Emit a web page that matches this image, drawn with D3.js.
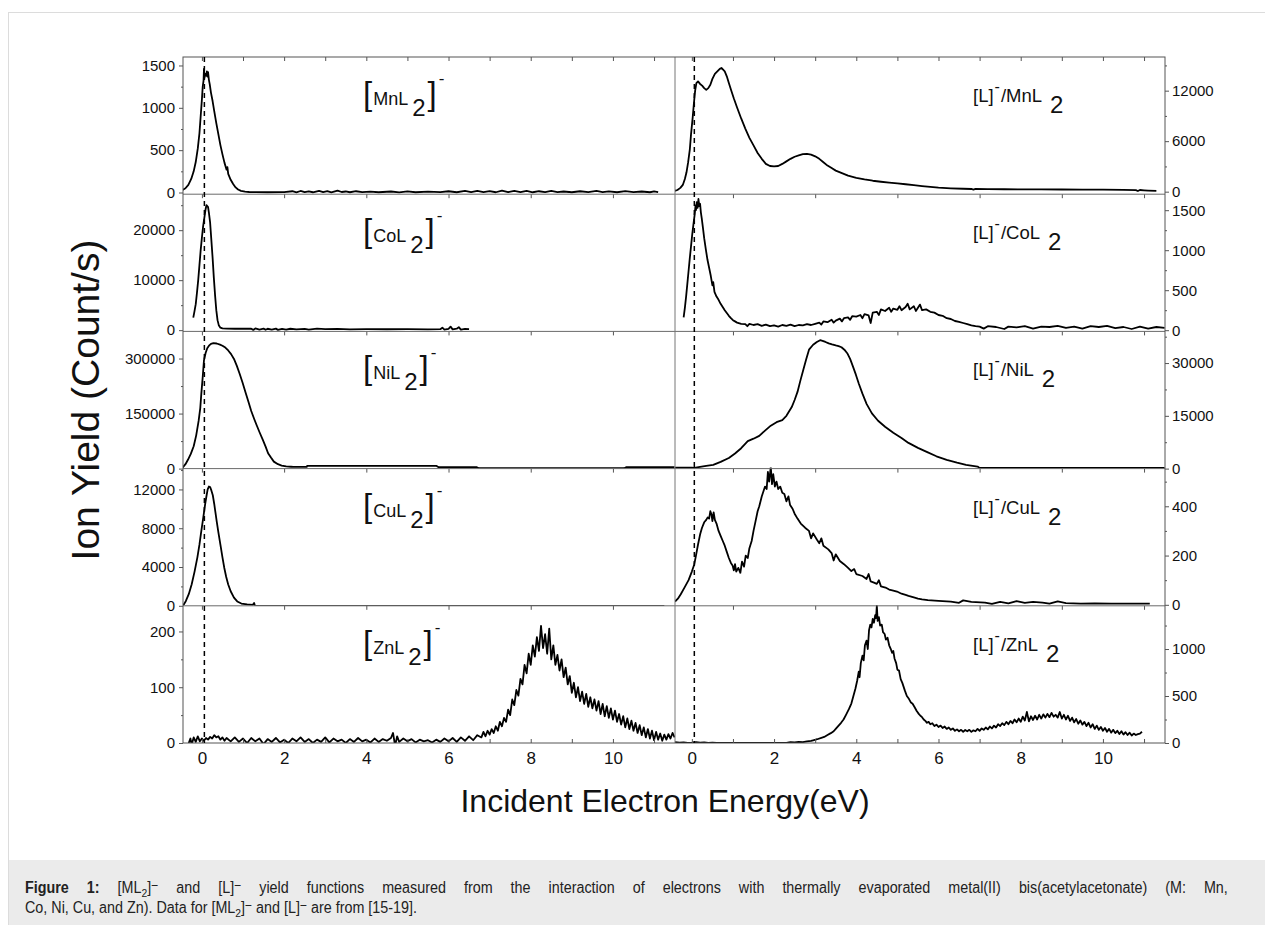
<!DOCTYPE html>
<html>
<head>
<meta charset="utf-8">
<script src="https://cdn.jsdelivr.net/npm/d3@7"></script>
<style>
body { margin: 0; background: #fff; }
svg { display: block; }
text { font-family: "Liberation Sans", Arial, Helvetica, sans-serif; }
</style>
</head>
<body>
<svg id="chart" width="1265" height="925"></svg>
<script>
// ---- data: [energy (eV), counts/s] ----
var mnLeft = [[-0.47,30],[-0.4,50],[-0.33,90],[-0.26,160],[-0.2,250],[-0.15,360],[-0.1,520],[-0.06,700],[-0.03,900],[0.0,1100],[0.02,1250],[0.04,1320],[0.05,1460],[0.06,1350],[0.08,1400],[0.1,1380],[0.12,1430],[0.13,1370],[0.15,1420],[0.17,1330],[0.19,1280],[0.22,1180],[0.26,1080],[0.3,960],[0.35,820],[0.4,690],[0.45,560],[0.5,450],[0.55,350],[0.6,270],[0.62,300],[0.64,220],[0.7,150],[0.76,100],[0.82,60],[0.88,35],[0.95,20],[1.05,10],[1.15,6],[1.3,4],[1.6,3],[2.0,5],[2.2,15],[2.3,2],[2.4,18],[2.5,4],[2.6,14],[2.7,3],[2.85,20],[2.95,5],[3.05,16],[3.15,2],[3.3,22],[3.4,6],[3.5,12],[3.6,3],[3.75,15],[3.9,4],[4.1,10],[4.3,3],[4.6,12],[4.8,2],[5.0,14],[5.2,3],[5.5,10],[5.8,4],[6.0,15],[6.2,3],[6.4,18],[6.55,4],[6.7,20],[6.85,5],[7.0,16],[7.15,3],[7.3,22],[7.45,5],[7.6,18],[7.75,4],[7.9,20],[8.05,3],[8.2,15],[8.35,5],[8.5,18],[8.65,4],[8.8,12],[9.0,3],[9.2,15],[9.4,4],[9.6,18],[9.75,5],[9.9,14],[10.1,3],[10.3,16],[10.5,4],[10.7,12],[10.9,3],[11.0,14],[11.1,5]];

var mnRight = [[-0.43,80],[-0.35,200],[-0.28,450],[-0.22,800],[-0.17,1500],[-0.13,2300],[-0.09,3500],[-0.05,5000],[-0.02,6800],[0.02,8800],[0.05,10500],[0.08,12000],[0.11,12900],[0.15,13100],[0.2,12800],[0.25,12600],[0.3,12300],[0.35,12100],[0.4,12300],[0.45,12700],[0.5,13400],[0.56,14000],[0.62,14300],[0.68,14600],[0.72,14700],[0.76,14500],[0.8,14300],[0.85,13700],[0.9,12900],[0.96,12000],[1.02,11100],[1.1,10000],[1.2,8700],[1.3,7500],[1.4,6400],[1.5,5500],[1.6,4600],[1.7,3900],[1.8,3300],[1.9,3050],[2.0,3000],[2.1,3050],[2.2,3300],[2.3,3600],[2.4,3900],[2.5,4150],[2.6,4300],[2.7,4450],[2.8,4500],[2.9,4400],[3.0,4200],[3.1,3900],[3.2,3500],[3.3,3100],[3.4,2800],[3.5,2500],[3.65,2200],[3.8,1900],[4.0,1650],[4.2,1450],[4.4,1300],[4.6,1180],[4.8,1080],[5.0,980],[5.2,880],[5.4,780],[5.6,660],[5.8,560],[6.0,470],[6.3,400],[6.6,350],[6.8,320],[6.85,250],[6.9,330],[7.2,300],[7.6,290],[8.0,280],[8.5,270],[9.0,260],[9.5,250],[10.0,240],[10.5,210],[10.8,180],[10.85,80],[10.9,200],[11.0,160],[11.1,130],[11.3,90]];

var coLeft = [[-0.21,2500],[-0.18,3800],[-0.15,5200],[-0.12,7500],[-0.09,10000],[-0.06,13000],[-0.03,16000],[0.0,18500],[0.03,20800],[0.06,22500],[0.09,24200],[0.11,25000],[0.13,24800],[0.15,24600],[0.17,23500],[0.2,21500],[0.23,18000],[0.26,14500],[0.29,10500],[0.32,7000],[0.35,4000],[0.38,2000],[0.41,1000],[0.45,500],[0.5,350],[0.6,300],[0.8,280],[1.0,280],[1.2,290],[1.25,50],[1.3,350],[1.4,100],[1.5,300],[1.55,80],[1.6,280],[1.7,120],[1.8,300],[1.85,60],[1.95,250],[2.05,100],[2.15,280],[2.3,150],[2.5,250],[2.6,100],[2.8,300],[3.0,200],[3.3,250],[3.6,150],[4.0,200],[4.5,180],[5.0,200],[5.5,150],[5.8,200],[5.85,500],[5.9,100],[6.0,250],[6.05,700],[6.1,150],[6.2,300],[6.25,600],[6.3,100],[6.4,250],[6.5,200]];

var coRight = [[-0.2,160],[-0.17,280],[-0.14,420],[-0.11,580],[-0.08,740],[-0.05,900],[-0.02,1050],[0.01,1200],[0.04,1330],[0.07,1450],[0.09,1560],[0.1,1500],[0.12,1600],[0.14,1530],[0.16,1640],[0.18,1550],[0.2,1580],[0.22,1470],[0.24,1400],[0.27,1280],[0.3,1150],[0.34,1010],[0.38,880],[0.42,780],[0.46,680],[0.5,560],[0.52,600],[0.55,480],[0.6,420],[0.65,380],[0.7,330],[0.75,290],[0.8,250],[0.85,215],[0.9,180],[0.95,150],[1.0,125],[1.05,110],[1.1,95],[1.2,80],[1.3,75],[1.35,50],[1.4,80],[1.5,65],[1.6,75],[1.7,55],[1.8,70],[1.9,50],[2.0,60],[2.1,45],[2.2,65],[2.3,55],[2.4,70],[2.5,50],[2.6,65],[2.7,60],[2.8,75],[2.9,65],[3.0,80],[3.1,95],[3.15,70],[3.2,110],[3.3,100],[3.4,130],[3.45,95],[3.5,120],[3.6,145],[3.65,110],[3.7,150],[3.8,160],[3.85,130],[3.9,175],[4.0,170],[4.1,190],[4.15,150],[4.2,200],[4.3,185],[4.35,90],[4.4,220],[4.5,230],[4.55,190],[4.6,260],[4.7,240],[4.8,280],[4.85,230],[4.9,270],[5.0,255],[5.05,300],[5.1,250],[5.2,290],[5.25,330],[5.3,260],[5.4,300],[5.45,240],[5.5,280],[5.55,320],[5.6,250],[5.7,260],[5.8,230],[5.9,220],[6.0,190],[6.1,180],[6.2,150],[6.3,140],[6.4,115],[6.5,105],[6.6,90],[6.7,75],[6.8,60],[6.9,50],[7.0,45],[7.1,20],[7.2,50],[7.4,40],[7.6,15],[7.7,45],[7.9,35],[8.1,50],[8.3,20],[8.5,45],[8.7,40],[8.9,55],[9.1,30],[9.3,45],[9.5,20],[9.7,50],[9.9,40],[10.1,55],[10.3,25],[10.5,40],[10.7,15],[10.9,45],[11.1,20],[11.3,40],[11.5,30]];

var niLeft = [[-0.47,2800],[-0.4,12000],[-0.34,24000],[-0.27,40000],[-0.2,61000],[-0.14,90000],[-0.08,130000],[-0.04,165000],[-0.015,203000],[0.02,250000],[0.05,295000],[0.09,315000],[0.13,328000],[0.18,336000],[0.22,340000],[0.28,342000],[0.36,341000],[0.44,338000],[0.5,335000],[0.57,330000],[0.64,322000],[0.71,312000],[0.78,299000],[0.85,280000],[0.92,258000],[0.99,234000],[1.06,208000],[1.13,183000],[1.2,157000],[1.27,136000],[1.34,116000],[1.41,97000],[1.48,79000],[1.55,60000],[1.61,42000],[1.68,30000],[1.75,19000],[1.85,12000],[1.94,8300],[2.05,6000],[2.17,5000],[2.22,4600],[2.55,4600],[2.56,7400],[5.71,7400],[5.76,3700],[6.69,3700],[6.74,900],[10.27,900],[10.32,3700],[11.5,3700]];

var niRight = [[-0.41,300],[0.0,300],[0.06,200],[0.2,500],[0.35,800],[0.52,1060],[0.7,1900],[0.9,3000],[1.05,4300],[1.2,5800],[1.36,7800],[1.5,8500],[1.64,9300],[1.78,10800],[1.92,12200],[2.06,13200],[2.2,13800],[2.3,15000],[2.43,17500],[2.5,19500],[2.57,21800],[2.64,25000],[2.71,28000],[2.78,31000],[2.85,33800],[2.95,35200],[3.04,36000],[3.12,36500],[3.18,36300],[3.25,36000],[3.33,35600],[3.41,35300],[3.5,35000],[3.57,34800],[3.64,34500],[3.71,33800],[3.78,32800],[3.85,31200],[3.92,29000],[3.99,26700],[4.06,24200],[4.15,21300],[4.25,18400],[4.38,15700],[4.53,13600],[4.7,11900],[4.9,10200],[5.1,8700],[5.27,7300],[5.5,5900],[5.74,4600],[5.95,3500],[6.2,2500],[6.45,1700],[6.67,1060],[6.95,580],[7.0,200],[11.5,200]];

var cuLeft = [[-0.47,0],[-0.43,200],[-0.39,500],[-0.32,1200],[-0.25,2200],[-0.18,3500],[-0.11,5000],[-0.06,6300],[-0.015,7700],[0.02,8700],[0.05,9600],[0.08,10500],[0.11,11300],[0.14,12000],[0.17,12300],[0.2,12250],[0.23,11900],[0.265,11400],[0.3,10500],[0.33,9600],[0.36,8700],[0.4,7600],[0.45,6300],[0.5,5000],[0.545,3900],[0.59,3000],[0.64,2200],[0.7,1500],[0.78,850],[0.86,450],[0.96,230],[1.1,150],[1.24,100],[1.27,300],[1.29,0],[11.25,0]];

var cuRight = [[-0.41,13],[-0.34,25],[-0.27,43],[-0.18,70],[-0.08,100],[0.0,135],[0.06,165],[0.1,200],[0.15,245],[0.2,285],[0.245,312],[0.3,335],[0.35,345],[0.385,355],[0.42,350],[0.45,380],[0.48,365],[0.5,340],[0.53,375],[0.56,345],[0.6,330],[0.65,300],[0.7,280],[0.75,260],[0.8,240],[0.85,215],[0.9,190],[0.95,170],[0.99,160],[1.02,140],[1.05,165],[1.08,135],[1.13,150],[1.18,130],[1.22,175],[1.27,155],[1.31,200],[1.36,190],[1.4,230],[1.455,259],[1.5,300],[1.55,340],[1.6,380],[1.64,400],[1.7,440],[1.75,465],[1.78,480],[1.82,470],[1.85,540],[1.88,500],[1.92,560],[1.95,490],[1.98,530],[2.02,480],[2.06,500],[2.1,470],[2.15,480],[2.2,455],[2.25,450],[2.3,420],[2.35,440],[2.39,405],[2.45,390],[2.5,370],[2.57,350],[2.65,330],[2.76,312],[2.85,300],[2.9,270],[2.95,290],[3.04,265],[3.1,250],[3.15,270],[3.2,240],[3.32,225],[3.4,210],[3.45,180],[3.5,205],[3.6,178],[3.7,165],[3.8,150],[3.88,137],[3.95,145],[4.0,125],[4.15,117],[4.25,105],[4.3,125],[4.35,95],[4.43,90],[4.5,85],[4.55,100],[4.6,75],[4.71,70],[4.8,62],[4.9,58],[4.99,54],[5.1,45],[5.2,40],[5.27,36],[5.4,30],[5.5,25],[5.6,22],[5.74,19],[6.0,16],[6.3,13],[6.5,8],[6.6,18],[6.8,12],[7.13,9],[7.3,4],[7.5,12],[7.7,6],[7.9,15],[8.1,8],[8.3,12],[8.53,9],[8.7,5],[8.9,14],[9.1,7],[9.46,5],[9.8,6],[10.2,5],[10.6,5],[11.14,5]];

var znLeft = [[-0.32,0],[-0.28,8],[-0.25,-3],[-0.2,10],[-0.15,2],[-0.1,12],[-0.05,3],[0.0,8],[0.05,4],[0.1,9],[0.15,6],[0.2,11],[0.25,8],[0.3,14],[0.35,10],[0.4,12],[0.45,6],[0.5,10],[0.55,4],[0.6,9],[0.7,3],[0.8,10],[0.9,2],[1.0,8],[1.1,0],[1.2,9],[1.3,3],[1.4,8],[1.5,-2],[1.6,7],[1.7,2],[1.8,9],[1.9,1],[2.0,6],[2.1,0],[2.2,8],[2.3,3],[2.4,10],[2.5,2],[2.6,7],[2.7,0],[2.8,6],[2.9,2],[3.0,10],[3.1,1],[3.2,8],[3.3,3],[3.4,6],[3.5,0],[3.6,7],[3.7,2],[3.8,9],[3.9,3],[4.0,6],[4.1,1],[4.2,8],[4.3,2],[4.4,7],[4.5,4],[4.6,9],[4.65,18],[4.7,-5],[4.75,12],[4.8,2],[4.9,8],[5.0,3],[5.1,7],[5.2,1],[5.3,6],[5.4,3],[5.5,5],[5.6,1],[5.7,6],[5.8,2],[5.9,8],[6.0,3],[6.1,9],[6.2,2],[6.3,10],[6.4,4],[6.5,12],[6.6,5],[6.7,14],[6.8,10],[6.85,20],[6.9,12],[6.95,22],[7.0,15],[7.05,25],[7.1,18],[7.15,30],[7.2,22],[7.25,38],[7.3,30],[7.35,45],[7.4,38],[7.45,60],[7.5,50],[7.55,78],[7.6,68],[7.65,95],[7.7,85],[7.75,115],[7.8,105],[7.85,140],[7.9,125],[7.95,160],[8.0,140],[8.05,175],[8.1,155],[8.15,190],[8.2,165],[8.25,210],[8.3,170],[8.35,195],[8.4,160],[8.45,205],[8.5,150],[8.55,175],[8.6,140],[8.65,158],[8.7,130],[8.75,150],[8.8,118],[8.85,135],[8.9,105],[8.95,120],[9.0,90],[9.05,108],[9.1,82],[9.15,100],[9.2,75],[9.25,92],[9.3,70],[9.35,88],[9.4,65],[9.45,82],[9.5,62],[9.55,78],[9.6,58],[9.65,75],[9.7,52],[9.75,70],[9.8,48],[9.85,66],[9.9,45],[9.95,62],[10.0,42],[10.05,58],[10.1,38],[10.15,52],[10.2,33],[10.25,48],[10.3,28],[10.35,44],[10.4,25],[10.45,40],[10.5,22],[10.55,36],[10.6,18],[10.65,32],[10.7,14],[10.75,28],[10.8,10],[10.85,25],[10.9,8],[10.95,22],[11.0,5],[11.05,20],[11.1,6],[11.15,17],[11.2,4],[11.25,15],[11.3,6],[11.35,16],[11.4,8],[11.45,18],[11.5,10]];

var znRight = [[-0.41,8],[-0.3,3],[-0.2,6],[-0.1,2],[0.0,5],[0.1,10],[0.2,3],[0.3,6],[0.4,1],[0.5,4],[0.6,0],[0.8,2],[1.0,0],[1.5,0],[2.0,0],[2.3,2],[2.4,10],[2.5,6],[2.6,12],[2.7,10],[2.8,18],[2.9,22],[2.95,28],[3.05,40],[3.15,55],[3.22,64],[3.3,85],[3.38,105],[3.45,125],[3.5,150],[3.57,185],[3.63,215],[3.69,250],[3.75,300],[3.82,360],[3.88,420],[3.93,500],[3.98,580],[4.02,660],[4.06,760],[4.08,700],[4.11,850],[4.15,930],[4.18,880],[4.21,1040],[4.25,1090],[4.28,1000],[4.31,1200],[4.34,1260],[4.37,1230],[4.4,1320],[4.43,1280],[4.46,1360],[4.48,1330],[4.5,1460],[4.52,1300],[4.55,1340],[4.58,1250],[4.62,1260],[4.65,1180],[4.69,1160],[4.72,1100],[4.76,1120],[4.8,1040],[4.84,1000],[4.87,960],[4.9,980],[4.93,900],[4.97,850],[5.0,780],[5.04,770],[5.08,680],[5.12,640],[5.18,560],[5.23,500],[5.28,470],[5.33,430],[5.37,417],[5.42,380],[5.47,340],[5.52,310],[5.56,290],[5.6,275],[5.64,250],[5.68,235],[5.72,215],[5.76,225],[5.8,200],[5.85,210],[5.9,180],[5.95,195],[6.0,170],[6.05,185],[6.1,160],[6.15,175],[6.2,150],[6.25,165],[6.3,140],[6.35,155],[6.4,130],[6.45,145],[6.5,125],[6.55,140],[6.6,120],[6.65,138],[6.7,125],[6.75,140],[6.8,118],[6.85,135],[6.9,125],[6.95,150],[7.0,130],[7.05,155],[7.1,140],[7.15,165],[7.2,145],[7.25,175],[7.3,155],[7.35,185],[7.4,165],[7.45,200],[7.5,180],[7.55,210],[7.6,190],[7.65,225],[7.7,200],[7.75,235],[7.8,210],[7.85,250],[7.9,220],[7.95,260],[8.0,225],[8.05,280],[8.1,240],[8.15,330],[8.2,230],[8.25,285],[8.3,245],[8.35,290],[8.4,250],[8.45,300],[8.5,260],[8.55,305],[8.6,270],[8.65,310],[8.7,275],[8.75,320],[8.8,280],[8.85,300],[8.9,270],[8.95,330],[9.0,260],[9.05,300],[9.1,250],[9.15,290],[9.2,235],[9.25,270],[9.3,220],[9.35,255],[9.4,205],[9.45,240],[9.5,195],[9.55,225],[9.6,180],[9.65,215],[9.7,165],[9.75,200],[9.8,150],[9.85,185],[9.9,140],[9.95,170],[10.0,130],[10.05,160],[10.1,120],[10.15,150],[10.2,110],[10.25,140],[10.3,105],[10.35,130],[10.4,95],[10.45,125],[10.5,90],[10.55,115],[10.6,85],[10.65,110],[10.7,80],[10.75,100],[10.8,85],[10.85,95],[10.9,100],[10.95,120]];

// metals (rows) and axis settings
var metals = ["Mn", "Co", "Ni", "Cu", "Zn"];
var leftSeries = [mnLeft, coLeft, niLeft, cuLeft, znLeft];
var rightSeries = [mnRight, coRight, niRight, cuRight, znRight];
var leftDomains = [[-20,1600],[-250,27200],[0,374000],[0,14150],[0,246]];
var rightDomains = [[-300,16000],[-15,1700],[0,39000],[-4,553],[0,1460]];
var leftTicks = [[0,500,1000,1500],[0,10000,20000],[0,150000,300000],[0,4000,8000,12000],[0,100,200]];
var rightTicks = [[0,6000,12000],[0,500,1000,1500],[0,15000,30000],[0,200,400],[0,500,1000]];
var leftMinorStep = [250, 5000, 75000, 2000, 50];
var rightMinorStep = [3000, 250, 7500, 100, 250];
var energyTicks = [0, 2, 4, 6, 8, 10];
var dashedAt = 0.06;

var svg = d3.select("#chart");

// figure frame and caption box
svg.append("rect").attr("x", 8.5).attr("y", 12.5).attr("width", 1300).attr("height", 1000)
   .attr("fill", "none").attr("stroke", "#dcdcdc");
svg.append("rect").attr("x", 9).attr("y", 860).attr("width", 1260).attr("height", 70).attr("fill", "#ebebeb");

var plotL = 183, plotM = 675, plotR = 1165, plotT = 57, plotB = 743;
var rowH = (plotB - plotT) / metals.length;

var xLeft = d3.scaleLinear().domain([-0.46, 11.51]).range([plotL, plotM]);
var xRight = d3.scaleLinear().domain([-0.41, 11.51]).range([plotM, plotR]);

var defs = svg.append("defs");

function minorValues(domain, step, majors) {
  var out = [];
  for (var v = 0; v <= domain[1]; v += step) {
    if (majors.indexOf(v) < 0) out.push(v);
  }
  return out;
}

function drawPanel(side, i) {
  var x = side == "L" ? xLeft : xRight;
  var data = side == "L" ? leftSeries[i] : rightSeries[i];
  var dom = side == "L" ? leftDomains[i] : rightDomains[i];
  var majors = side == "L" ? leftTicks[i] : rightTicks[i];
  var step = side == "L" ? leftMinorStep[i] : rightMinorStep[i];
  var y0 = plotT + i * rowH, y1 = y0 + rowH;
  var y = d3.scaleLinear().domain(dom).range([y1, y0]);
  var x0 = x.range()[0], x1 = x.range()[1];

  var clipId = "clip" + side + i;
  defs.append("clipPath").attr("id", clipId).append("rect")
      .attr("x", x0).attr("y", y0 - 1).attr("width", x1 - x0).attr("height", rowH + 1);

  var line = d3.line().x(function(d) { return x(d[0]); }).y(function(d) { return y(d[1]); });
  svg.append("path").datum(data)
     .attr("clip-path", "url(#" + clipId + ")")
     .attr("d", line)
     .attr("fill", "none").attr("stroke", "#000").attr("stroke-width", 1.8)
     .attr("stroke-linejoin", "round");

  // value axis (majors labelled, minors bare)
  var ax = side == "L" ? d3.axisLeft(y) : d3.axisRight(y);
  var gx = side == "L" ? plotL : plotR;
  var g = svg.append("g").attr("transform", "translate(" + gx + ",0)")
     .call(ax.tickValues(majors).tickSize(4).tickPadding(side == "L" ? 4 : 3).tickFormat(d3.format("d")));
  g.select(".domain").remove();
  g.selectAll("line").attr("stroke", "#555");
  g.selectAll("text").attr("font-size", 15).attr("fill", "#111")
     .attr("font-family", "'Liberation Sans', Arial, sans-serif");
  var ax2 = side == "L" ? d3.axisLeft(y) : d3.axisRight(y);
  var gm = svg.append("g").attr("transform", "translate(" + gx + ",0)")
     .call(ax2.tickValues(minorValues(dom, step, majors)).tickSize(2).tickFormat(""));
  gm.select(".domain").remove();
  gm.selectAll("line").attr("stroke", "#555");

  // energy ticks along the top edge of each panel (pointing into the panel)
  var ints = d3.range(0, 12);
  var topTicks = i == 0 ? ints : ints.filter(function(v) { return side == "L" ? v % 2 == 0 : v % 2 == 1; });
  var gt = svg.append("g").attr("transform", "translate(0," + y0 + ")")
     .call(d3.axisTop(x).tickValues(topTicks).tickSize(-4).tickFormat(""));
  gt.select(".domain").remove();
  gt.selectAll("line").attr("stroke", "#555");

  // species labels
  if (side == "L") {
    var t = svg.append("text").attr("x", 363).attr("y", y0 + 48).attr("fill", "#111");
    t.append("tspan").attr("font-size", 33).text("[");
    t.append("tspan").attr("font-size", 18).attr("dx", 1).text(metals[i] + "L");
    t.append("tspan").attr("font-size", 24).attr("dx", 4).attr("dy", 11).text("2");
    t.append("tspan").attr("font-size", 33).attr("dx", 2).attr("dy", -11).text("]");
    t.append("tspan").attr("font-size", 17).attr("dx", 2).attr("dy", -21).text("-");
  } else {
    var r = svg.append("text").attr("x", 973).attr("y", y0 + 45).attr("fill", "#111").attr("font-size", 18.5);
    r.append("tspan").text("[L]");
    r.append("tspan").attr("font-size", 16).attr("dx", 1).attr("dy", -10).text("-");
    r.append("tspan").attr("dx", 1).attr("dy", 10).text("/" + metals[i] + "L");
    r.append("tspan").attr("font-size", 24).attr("dx", 8).attr("dy", 11).text("2");
  }
}

for (var i = 0; i < metals.length; i++) {
  drawPanel("L", i);
  drawPanel("R", i);
}

// row separators and frame
for (var k = 1; k < metals.length; k++) {
  svg.append("line").attr("x1", plotL).attr("x2", plotR)
     .attr("y1", plotT + k * rowH).attr("y2", plotT + k * rowH)
     .attr("stroke", "#6a6a6a").attr("stroke-width", 1);
}
svg.append("line").attr("x1", plotM).attr("x2", plotM).attr("y1", plotT).attr("y2", plotB)
   .attr("stroke", "#777").attr("stroke-width", 1);
svg.append("rect").attr("x", plotL).attr("y", plotT).attr("width", plotR - plotL).attr("height", plotB - plotT)
   .attr("fill", "none").attr("stroke", "#555").attr("stroke-width", 1);

// dashed zero-energy markers
[xLeft, xRight].forEach(function(x) {
  svg.append("line").attr("x1", x(dashedAt)).attr("x2", x(dashedAt))
     .attr("y1", plotT).attr("y2", plotB)
     .attr("stroke", "#000").attr("stroke-width", 1.5).attr("stroke-dasharray", "5,4");
});

// bottom energy axes
[xLeft, xRight].forEach(function(x) {
  var gb = svg.append("g").attr("transform", "translate(0," + plotB + ")")
     .call(d3.axisBottom(x).tickValues(d3.range(0, 12)).tickSize(-4).tickPadding(9)
       .tickFormat(function(d) { return energyTicks.indexOf(d) >= 0 ? d : ""; }));
  gb.select(".domain").remove();
  gb.selectAll("line").attr("stroke", "#555");
  gb.selectAll("text").attr("font-size", 17).attr("fill", "#111")
     .attr("font-family", "'Liberation Sans', Arial, sans-serif");
});

// axis titles
svg.append("text").attr("x", 665).attr("y", 812).attr("text-anchor", "middle")
   .attr("font-size", 32).attr("fill", "#111").text("Incident Electron Energy(eV)");
svg.append("text").attr("transform", "translate(99,400) rotate(-90)").attr("text-anchor", "middle")
   .attr("font-size", 39).attr("fill", "#111").text("Ion Yield (Count/s)");

// caption: a narrow face look (horizontal squeeze), first line justified to the box
function captionLine(yPos, parts) {
  var t = svg.append("text").attr("transform", "translate(25," + yPos + ")")
     .attr("font-size", 16).attr("fill", "#222");
  parts.forEach(function(p) {
    var s = t.append("tspan").text(p.t);
    if (p.b) s.attr("font-weight", "bold");
    if (p.dy) s.attr("dy", p.dy);
    if (p.fs) s.attr("font-size", p.fs);
  });
  return t;
}
var capParts1 = [
  {t: "Figure 1:", b: true}, {t: " [ML"}, {t: "2", dy: 4, fs: 11.5}, {t: "]", dy: -4}, {t: "\u2212", dy: -3, fs: 13.5},
  {t: " and [L]", dy: 3}, {t: "\u2212", dy: -3, fs: 13.5},
  {t: " yield functions measured from the interaction of electrons with thermally evaporated metal(II) bis(acetylacetonate) (M: Mn,", dy: 3}
];
var capParts2 = [
  {t: "Co, Ni, Cu, and Zn). Data for [ML"}, {t: "2", dy: 4, fs: 11.5}, {t: "]", dy: -4}, {t: "\u2212", dy: -3, fs: 13.5},
  {t: " and [L]", dy: 3}, {t: "\u2212", dy: -3, fs: 13.5}, {t: " are from [15-19].", dy: 3}
];
var cap1 = captionLine(893, capParts1);
var cap2 = captionLine(913, capParts2);
var squeeze = 392 / cap2.node().getComputedTextLength();
cap2.attr("transform", "translate(25,913) scale(" + squeeze + ",1)");
var spaces1 = capParts1.map(function(p) { return p.t; }).join("").split(" ").length - 1;
var natural1 = cap1.node().getComputedTextLength();
cap1.attr("word-spacing", Math.max(0, (1203 / squeeze - natural1) / spaces1))
    .attr("transform", "translate(25,893) scale(" + squeeze + ",1)");
</script>
</body>
</html>
